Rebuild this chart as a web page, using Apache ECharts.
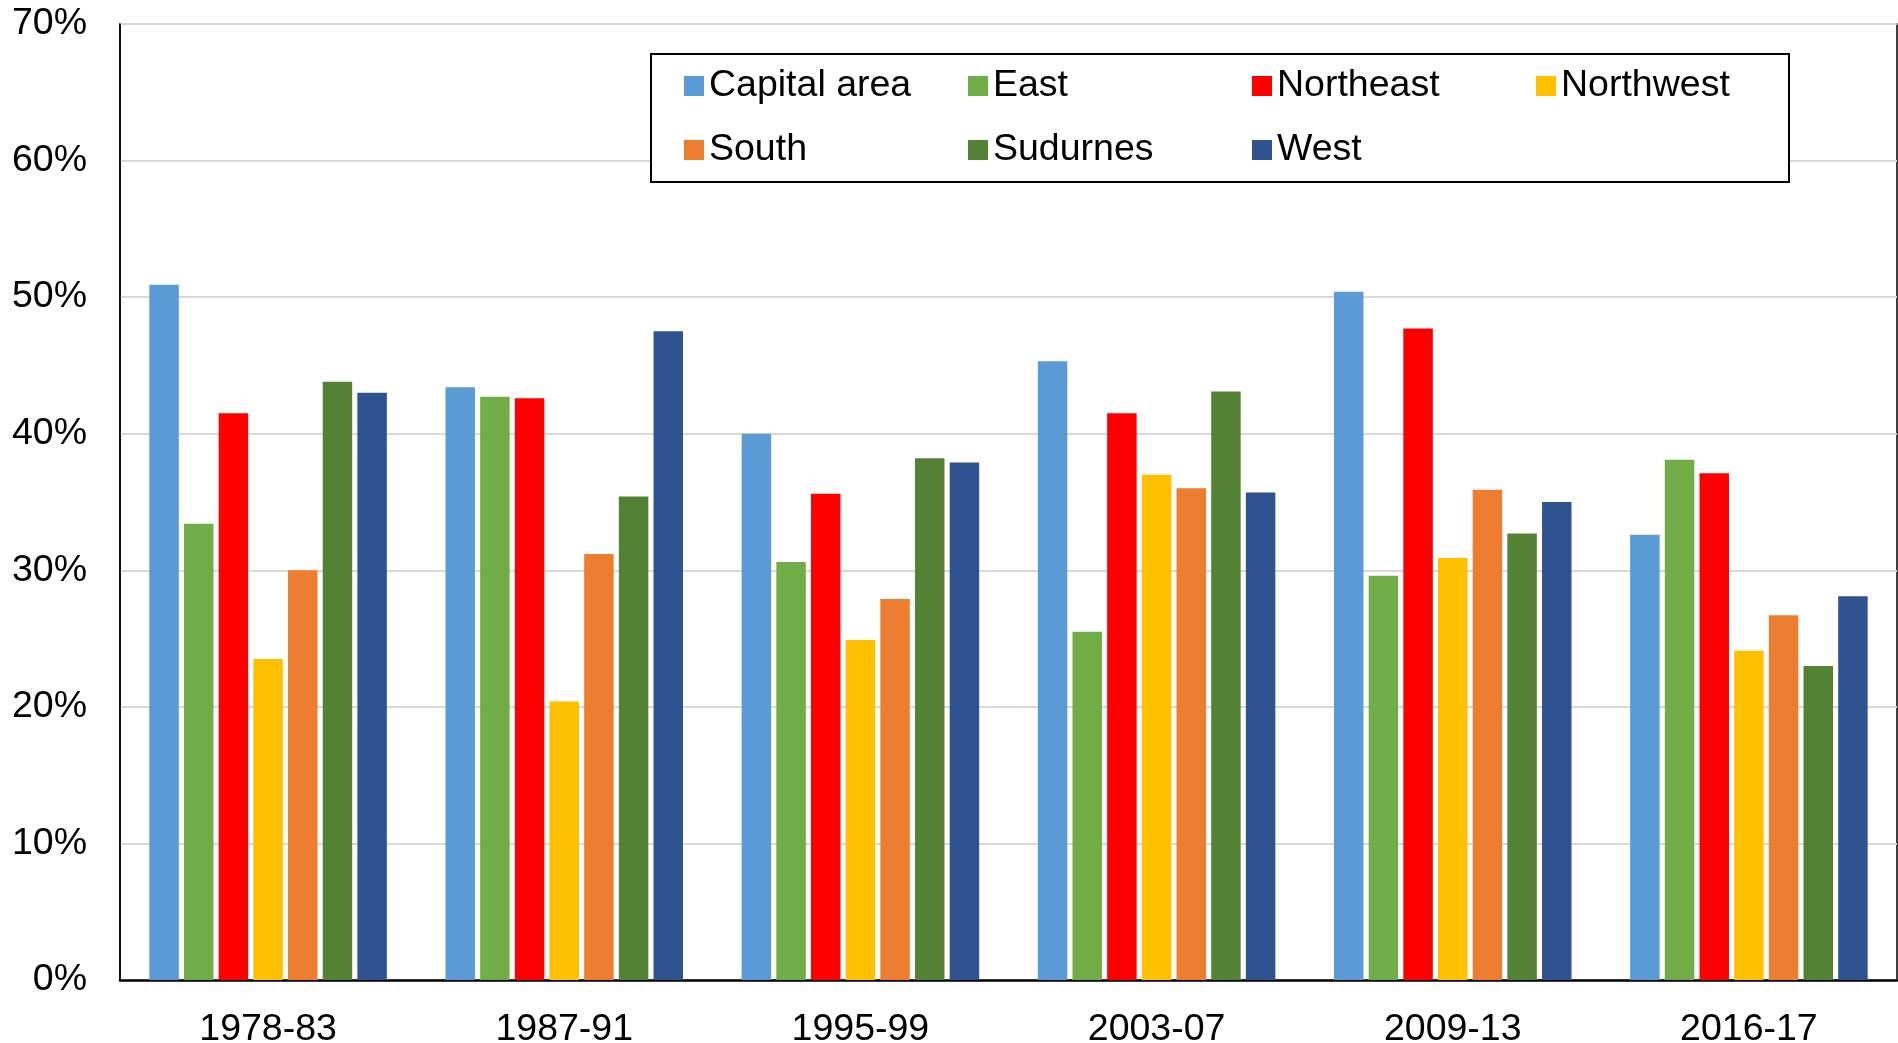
<!DOCTYPE html>
<html>
<head>
<meta charset="utf-8">
<script src="https://cdn.jsdelivr.net/npm/echarts@6/dist/echarts.min.js"></script>
<style>
html,body{margin:0;padding:0;background:#fff;}
#chart{width:1898px;height:1043px;}
</style>
</head>
<body>
<div id="chart"></div>
<script>
var categories = ['1978-83', '1987-91', '1995-99', '2003-07', '2009-13', '2016-17'];
var seriesNames = ['Capital area', 'East', 'Northeast', 'Northwest', 'South', 'Sudurnes', 'West'];
var capitalArea = [50.9, 43.4, 40.0, 45.3, 50.4, 32.6];
var east        = [33.4, 42.7, 30.6, 25.5, 29.6, 38.1];
var northeast   = [41.5, 42.6, 35.6, 41.5, 47.7, 37.1];
var northwest   = [23.5, 20.4, 24.9, 37.0, 30.9, 24.1];
var south       = [30.0, 31.2, 27.9, 36.0, 35.9, 26.7];
var sudurnes    = [43.8, 35.4, 38.2, 43.1, 32.7, 23.0];
var west        = [43.0, 47.5, 37.9, 35.7, 35.0, 28.1];
var yTicks = [0, 10, 20, 30, 40, 50, 60, 70];

var colors = ['#5B9BD5', '#70AD47', '#FF0000', '#FFC000', '#ED7D31', '#548235', '#2F5291'];
var values = [capitalArea, east, northeast, northwest, south, sudurnes, west];
var FONT = '"Liberation Sans", Arial, Helvetica, sans-serif';
var FS = 37.5;

var chart = echarts.init(document.getElementById('chart'), null, {renderer: 'canvas'});
var series = seriesNames.map(function (n, i) {
  return {
    name: n,
    type: 'bar',
    data: values[i],
    itemStyle: {color: colors[i]},
    barGap: '17.6%',
    barCategoryGap: '19.8%'
  };
});

chart.setOption({
  animation: false,
  backgroundColor: '#fff',
  color: colors,
  grid: {
    left: 120, right: 1, top: 24, bottom: 63,
    containLabel: false,
    outerBoundsMode: 'none',
    show: true, borderColor: '#000', borderWidth: 1.5, backgroundColor: 'transparent'
  },
  legend: {
    data: seriesNames,
    left: 651, top: 54, width: 1075,
    orient: 'horizontal',
    padding: [10, 33, 10, 33],
    itemGap: 20,
    itemWidth: 20, itemHeight: 20,
    icon: 'rect',
    borderColor: '#000', borderWidth: 2,
    backgroundColor: '#fff',
    formatter: function (name) {
      return (name === 'Northwest' ? '{b|' : '{a|') + name + '}';
    },
    textStyle: {
      color: '#000', fontSize: FS, fontFamily: FONT, lineHeight: 44,
      rich: {
        a: {width: 239, fontSize: FS, fontFamily: FONT, lineHeight: 44, color: '#000'},
        b: {width: 195, fontSize: FS, fontFamily: FONT, lineHeight: 44, color: '#000'}
      }
    }
  },
  xAxis: {
    type: 'category',
    data: categories,
    axisLine: {show: true, lineStyle: {color: '#000', width: 2.5}},
    axisTick: {show: false},
    axisLabel: {color: '#000', fontSize: FS, fontFamily: FONT, margin: 31},
    splitLine: {show: false}
  },
  yAxis: {
    type: 'value',
    min: yTicks[0], max: yTicks[yTicks.length - 1], interval: 10,
    axisLine: {show: true, lineStyle: {color: '#000', width: 1.5}},
    axisTick: {show: false},
    axisLabel: {color: '#000', fontSize: FS, fontFamily: FONT, margin: 33, formatter: '{value}%'},
    splitLine: {show: true, lineStyle: {color: '#D9D9D9', width: 2}}
  },
  series: series
});
</script>
</body>
</html>
